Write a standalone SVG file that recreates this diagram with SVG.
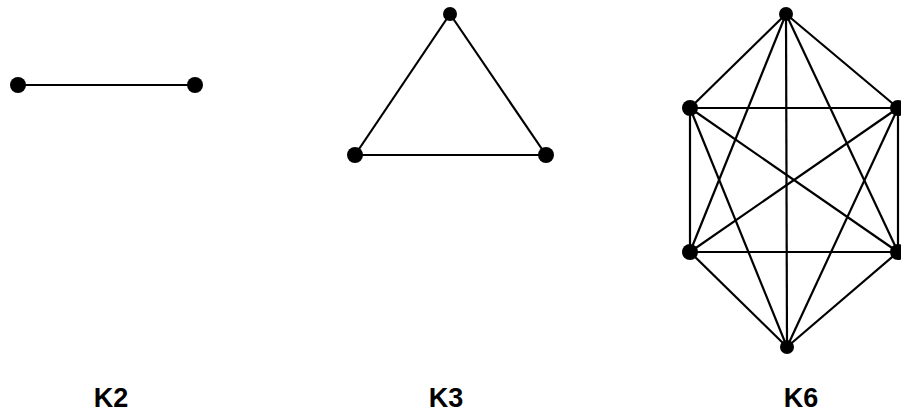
<svg xmlns="http://www.w3.org/2000/svg" width="901" height="413" viewBox="0 0 901 413">
<style>
.e{stroke:#000;stroke-width:2.2;fill:none}
.n{fill:#000}
.t{font-family:"Liberation Sans",Arial,sans-serif;font-weight:bold;font-size:27px;fill:#000}
</style>
<rect width="901" height="413" fill="#fff"/>
<g id="connectors" class="e">
<line x1="18" y1="85" x2="195" y2="85"/>
<line x1="450" y1="14" x2="355" y2="155"/>
<line x1="450" y1="14" x2="546" y2="155"/>
<line x1="355" y1="155" x2="546" y2="155"/>
<line x1="786" y1="14" x2="690" y2="108"/>
<line x1="786" y1="14" x2="898" y2="108"/>
<line x1="786" y1="14" x2="690" y2="252"/>
<line x1="786" y1="14" x2="898" y2="252"/>
<line x1="786" y1="14" x2="787" y2="347"/>
<line x1="690" y1="108" x2="898" y2="108"/>
<line x1="690" y1="108" x2="690" y2="252"/>
<line x1="690" y1="108" x2="898" y2="252"/>
<line x1="690" y1="108" x2="787" y2="347"/>
<line x1="898" y1="108" x2="690" y2="252"/>
<line x1="898" y1="108" x2="898" y2="252"/>
<line x1="898" y1="108" x2="787" y2="347"/>
<line x1="690" y1="252" x2="898" y2="252"/>
<line x1="690" y1="252" x2="787" y2="347"/>
<line x1="898" y1="252" x2="787" y2="347"/>
</g>
<g id="k2-a"><circle class="n" cx="18" cy="85" r="8"/></g>
<g id="k2-b"><circle class="n" cx="195" cy="85" r="8"/></g>
<g id="k3-a"><circle class="n" cx="450" cy="14" r="7"/></g>
<g id="k3-b"><circle class="n" cx="355" cy="155" r="8"/></g>
<g id="k3-c"><circle class="n" cx="546" cy="155" r="8"/></g>
<g id="k6-a"><circle class="n" cx="786" cy="14" r="7"/></g>
<g id="k6-b"><circle class="n" cx="690" cy="108" r="8"/></g>
<g id="k6-c"><circle class="n" cx="898" cy="108" r="8"/></g>
<g id="k6-d"><circle class="n" cx="690" cy="252" r="8"/></g>
<g id="k6-e"><circle class="n" cx="898" cy="252" r="8"/></g>
<g id="k6-f"><circle class="n" cx="787" cy="347" r="7"/></g>
<g id="labels">
<text class="t" x="111" y="407" text-anchor="middle">K2</text>
<text class="t" x="446" y="407" text-anchor="middle">K3</text>
<text class="t" x="801" y="407" text-anchor="middle">K6</text>
</g>
</svg>
